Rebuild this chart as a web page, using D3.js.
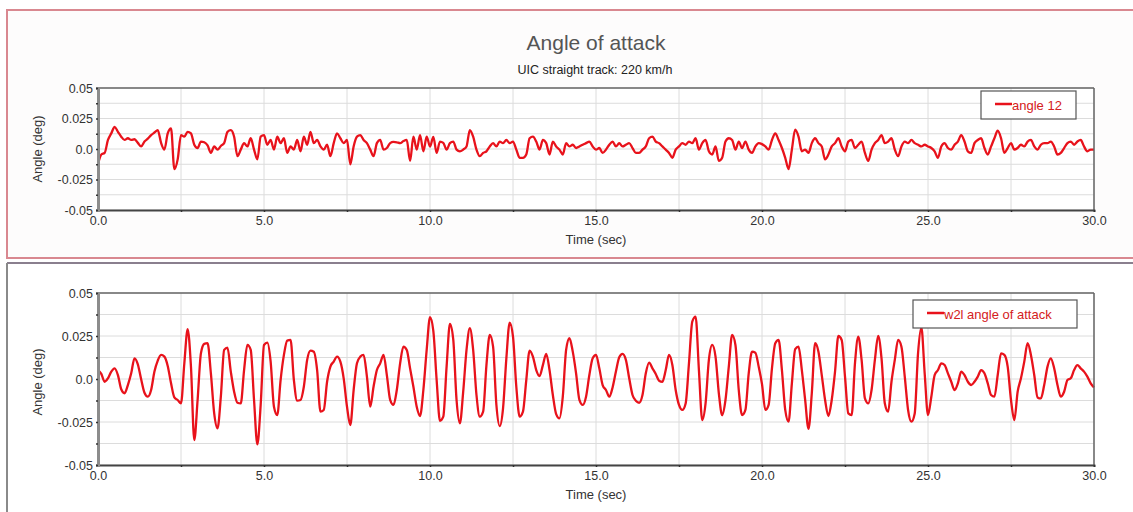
<!DOCTYPE html>
<html>
<head>
<meta charset="utf-8">
<script src="https://cdn.jsdelivr.net/npm/d3@7"></script>
<style>
  body { margin: 0; background: #fff; }
  svg { display: block; font-family: "Liberation Sans", Arial, sans-serif; }
</style>
</head>
<body>
<svg id="chart" width="1133" height="512"></svg>
<script>
// ---- chart text ----
const chartTitle = "Angle of attack";
const chartSubtitle = "UIC straight track: 220 km/h";
const xAxisTitle = "Time (sec)";
const yAxisTitle = "Angle (deg)";
const seriesNames = ["angle 12", "w2l angle of attack"];

// ---- samples (deg), one every sampleStep seconds from t = 0 to 30 s ----
const sampleStep = 0.1;
const angle12 = [
  -0.0125, -0.0045, -0.0032, 0.0074, 0.0128, 0.0181, 0.0141, 0.0101, 0.0074, 0.0088,
  0.0074, 0.0080, 0.0050, 0.0021, 0.0061, 0.0085, 0.0114, 0.0135, 0.0154, 0.0050,
  -0.0005, 0.0128, 0.0168, -0.0165, -0.0085, 0.0114, 0.0101, 0.0141, 0.0128, 0.0035,
  0.0008, 0.0061, 0.0055, 0.0030, -0.0032, 0.0021, -0.0005, 0.0025, 0.0048, 0.0141,
  0.0154, 0.0101, -0.0059, -0.0005, 0.0048, 0.0021, 0.0088, -0.0005, -0.0085, 0.0101,
  0.0114, 0.0035, 0.0074, -0.0005, 0.0101, 0.0048, 0.0088, -0.0032, 0.0021, -0.0005,
  0.0074, -0.0019, 0.0101, 0.0035, 0.0141, 0.0048, 0.0074, 0.0021, -0.0005, 0.0035,
  -0.0059, 0.0048, 0.0128, 0.0088, 0.0048, 0.0074, -0.0125, 0.0021, 0.0101, 0.0114,
  0.0074, 0.0048, -0.0005, -0.0059, 0.0048, 0.0074, -0.0005, 0.0008, 0.0048, 0.0058,
  0.0055, 0.0048, 0.0065, 0.0074, -0.0098, 0.0101, -0.0005, 0.0114, -0.0019, 0.0101,
  0.0020, 0.0100, -0.0032, 0.0061, 0.0050, -0.0005, 0.0048, 0.0061, -0.0005, -0.0019,
  -0.0005, 0.0021, 0.0155, 0.0101, -0.0005, -0.0059, -0.0032, -0.0019, 0.0021, 0.0048,
  0.0021, 0.0061, 0.0048, 0.0074, 0.0048, 0.0061, -0.0005, -0.0072, -0.0072, -0.0045,
  0.0088, 0.0101, 0.0061, -0.0005, 0.0074, 0.0048, -0.0045, 0.0061, 0.0021, -0.0005,
  -0.0045, 0.0048, 0.0021, 0.0035, 0.0008, 0.0021, 0.0035, 0.0048, 0.0061, 0.0021,
  -0.0005, 0.0008, -0.0032, -0.0005, 0.0035, 0.0061, 0.0021, 0.0048, 0.0021, 0.0035,
  0.0048, 0.0008, -0.0032, -0.0032, -0.0005, 0.0021, 0.0088, 0.0101, 0.0061, 0.0048,
  0.0021, -0.0005, -0.0032, -0.0072, -0.0005, 0.0021, 0.0048, 0.0035, 0.0061, 0.0048,
  0.0088, -0.0005, 0.0048, 0.0074, -0.0019, -0.0045, 0.0021, -0.0098, -0.0072, 0.0061,
  0.0088, 0.0074, -0.0005, 0.0061, 0.0008, 0.0061, -0.0005, -0.0032, 0.0021, 0.0048,
  0.0040, 0.0021, -0.0005, 0.0074, 0.0128, 0.0074, 0.0008, -0.0072, -0.0165, -0.0005,
  0.0158, 0.0101, -0.0019, -0.0005, -0.0032, 0.0048, 0.0088, 0.0048, 0.0021, -0.0085,
  -0.0045, 0.0021, 0.0048, 0.0088, 0.0021, -0.0019, 0.0061, 0.0074, 0.0008, 0.0035,
  0.0061, -0.0032, -0.0098, -0.0005, 0.0048, 0.0074, 0.0114, 0.0048, 0.0061, 0.0088,
  -0.0005, -0.0059, 0.0021, 0.0061, 0.0048, 0.0074, 0.0048, 0.0035, 0.0021, 0.0035,
  0.0021, 0.0008, -0.0019, -0.0072, 0.0021, 0.0048, 0.0008, -0.0005, 0.0035, 0.0061,
  0.0114, 0.0061, -0.0019, -0.0032, 0.0048, 0.0074, 0.0088, 0.0008, -0.0045, 0.0021,
  0.0088, 0.0150, 0.0088, -0.0032, 0.0008, 0.0048, -0.0005, 0.0008, 0.0035, 0.0021,
  0.0061, 0.0074, 0.0021, -0.0005, 0.0035, 0.0048, 0.0048, 0.0061, 0.0021, -0.0045,
  -0.0032, 0.0008, 0.0048, 0.0061, 0.0035, 0.0061, 0.0074, 0.0021, -0.0019, -0.0005,
  -0.0005
];
const w2lAngle = [
  0.0052, 0.0030, -0.0016, 0.0004, 0.0043, 0.0062, 0.0023, -0.0060, -0.0083, -0.0035,
  0.0033, 0.0120, 0.0085, -0.0002, -0.0080, -0.0103, -0.0064, 0.0043, 0.0107, 0.0140,
  0.0130, 0.0076, -0.0025, -0.0107, -0.0122, -0.0142, 0.0090, 0.0290, 0.0072, -0.0355,
  -0.0122, 0.0149, 0.0204, 0.0208, 0.0033, -0.0200, -0.0287, -0.0103, 0.0169, 0.0182,
  0.0043, -0.0074, -0.0138, -0.0142, 0.0052, 0.0198, 0.0169, -0.0122, -0.0380, -0.0150,
  0.0198, 0.0211, 0.0101, -0.0161, -0.0210, -0.0006, 0.0140, 0.0223, 0.0227, -0.0006,
  -0.0126, -0.0122, -0.0045, 0.0111, 0.0165, 0.0159, 0.0052, -0.0190, -0.0180, -0.0016,
  0.0072, 0.0101, 0.0130, 0.0101, 0.0004, -0.0161, -0.0268, -0.0064, 0.0091, 0.0130,
  0.0140, 0.0014, -0.0161, -0.0045, 0.0052, 0.0091, 0.0140, 0.0023, -0.0122, -0.0151,
  -0.0064, 0.0091, 0.0188, 0.0169, 0.0062, -0.0045, -0.0161, -0.0215, -0.0064, 0.0169,
  0.0360, 0.0280, -0.0006, -0.0243, -0.0219, 0.0072, 0.0320, 0.0230, -0.0122, -0.0258,
  -0.0074, 0.0169, 0.0295, 0.0169, -0.0093, -0.0219, -0.0190, 0.0081, 0.0256, 0.0188,
  -0.0151, -0.0274, -0.0171, 0.0120, 0.0328, 0.0246, -0.0045, -0.0219, -0.0190, -0.0006,
  0.0165, 0.0130, 0.0052, 0.0017, 0.0081, 0.0146, 0.0052, -0.0093, -0.0204, -0.0229,
  -0.0103, 0.0169, 0.0237, 0.0159, 0.0033, -0.0122, -0.0151, -0.0103, 0.0023, 0.0120,
  0.0140, 0.0062, -0.0035, -0.0064, -0.0103, -0.0049, 0.0043, 0.0126, 0.0146, 0.0111,
  0.0004, -0.0093, -0.0126, -0.0138, -0.0093, 0.0033, 0.0095, 0.0062, 0.0029, -0.0010,
  -0.0016, 0.0052, 0.0140, 0.0081, -0.0064, -0.0151, -0.0180, -0.0142, 0.0091, 0.0334,
  0.0363, 0.0052, -0.0239, -0.0142, 0.0111, 0.0198, 0.0130, -0.0083, -0.0210, -0.0122,
  0.0072, 0.0256, 0.0198, -0.0064, -0.0210, -0.0180, 0.0033, 0.0159, 0.0153, 0.0072,
  -0.0030, -0.0180, -0.0150, 0.0062, 0.0208, 0.0227, 0.0052, -0.0180, -0.0248, -0.0025,
  0.0173, 0.0188, 0.0052, -0.0122, -0.0290, -0.0083, 0.0208, 0.0159, 0.0023, -0.0122,
  -0.0215, -0.0122, 0.0043, 0.0250, 0.0227, 0.0014, -0.0200, -0.0210, 0.0091, 0.0246,
  0.0111, -0.0113, -0.0142, -0.0064, 0.0111, 0.0250, 0.0120, -0.0142, -0.0190, -0.0016,
  0.0111, 0.0227, 0.0188, 0.0014, -0.0180, -0.0248, -0.0200, 0.0149, 0.0300, 0.0033,
  -0.0210, -0.0103, 0.0023, 0.0052, 0.0091, 0.0081, 0.0033, -0.0016, -0.0064, -0.0025,
  0.0043, 0.0023, -0.0016, -0.0035, -0.0016, 0.0014, 0.0052, 0.0033, -0.0025, -0.0093,
  -0.0103, 0.0023, 0.0149, 0.0140, 0.0072, -0.0122, -0.0239, -0.0074, 0.0004, 0.0101,
  0.0208, 0.0140, 0.0023, -0.0107, -0.0113, -0.0035, 0.0072, 0.0120, 0.0062, -0.0035,
  -0.0103, -0.0074, -0.0006, 0.0004, 0.0052, 0.0081, 0.0062, 0.0043, 0.0014, -0.0025,
  -0.0049
];

// ---- axes ----
const xDomain = [0, 30];
const yDomain = [-0.05, 0.05];
const xTickValues = [0, 5, 10, 15, 20, 25, 30];
const xTickLabels = ["0.0", "5.0", "10.0", "15.0", "20.0", "25.0", "30.0"];
const xMinorStep = 2.5;
const yTickValues = [0.05, 0.025, 0, -0.025, -0.05];
const yTickLabels = ["0.05", "0.025", "0.0", "-0.025", "-0.05"];
const yMinorStep = 0.0125;

// ---- layout ----
const lineColor = "#e8121b";
const plotLeft = 98, plotRight = 1094;
const panels = [
  { values: angle12, name: seriesNames[0], top: 88, bottom: 210, titleShift: 0,
    legend: { x: 981, y: 91, w: 95, h: 28 } },
  { values: w2lAngle, name: seriesNames[1], top: 293, bottom: 465, titleShift: 3,
    legend: { x: 913, y: 300, w: 164, h: 28 } }
];

const svg = d3.select("#chart");

// panel frames
svg.append("rect").attr("x", 0).attr("y", 0).attr("width", 1133).attr("height", 512).attr("fill", "#fff");
svg.append("rect")
  .attr("x", 7).attr("y", 10).attr("width", 1130).attr("height", 248)
  .attr("fill", "#fdfcfc").attr("stroke", "#d98890").attr("stroke-width", 2);
svg.append("line").attr("x1", 7).attr("x2", 1133).attr("y1", 263).attr("y2", 263)
  .attr("stroke", "#8a7f8e").attr("stroke-width", 2);
svg.append("line").attr("x1", 7).attr("x2", 7).attr("y1", 263).attr("y2", 512)
  .attr("stroke", "#8a8a8a").attr("stroke-width", 2);

// title block
svg.append("text").attr("x", 596).attr("y", 42).attr("text-anchor", "middle")
  .attr("dominant-baseline", "central").attr("font-size", 21).attr("fill", "#555")
  .text(chartTitle);
svg.append("text").attr("x", 595).attr("y", 70).attr("text-anchor", "middle")
  .attr("dominant-baseline", "central").attr("font-size", 12.5).attr("fill", "#222")
  .text(chartSubtitle);

panels.forEach(p => {
  const x = d3.scaleLinear().domain(xDomain).range([plotLeft, plotRight]);
  const y = d3.scaleLinear().domain(yDomain).range([p.bottom, p.top]);
  const g = svg.append("g");

  g.append("rect").attr("x", plotLeft).attr("y", p.top)
    .attr("width", plotRight - plotLeft).attr("height", p.bottom - p.top).attr("fill", "#fff");

  // grid
  const xMinor = d3.range(xDomain[0], xDomain[1] + 1e-9, xMinorStep);
  const yMinor = d3.range(yDomain[0], yDomain[1] + 1e-9, yMinorStep);
  g.selectAll(".vgrid").data(xMinor).join("line")
    .attr("x1", d => x(d)).attr("x2", d => x(d)).attr("y1", p.top).attr("y2", p.bottom)
    .attr("stroke", "#dcdcdc").attr("stroke-width", 1);
  g.selectAll(".hgrid").data(yMinor).join("line")
    .attr("x1", plotLeft).attr("x2", plotRight).attr("y1", d => y(d)).attr("y2", d => y(d))
    .attr("stroke", "#dcdcdc").attr("stroke-width", 1);

  // series
  const line = d3.line().curve(d3.curveMonotoneX)
    .x((d, i) => x(i * sampleStep)).y(d => y(d));
  g.append("path").datum(p.values).attr("d", line)
    .attr("fill", "none").attr("stroke", lineColor).attr("stroke-width", 2.3)
    .attr("stroke-linejoin", "round");

  // frame
  g.append("line").attr("x1", plotLeft).attr("x2", plotRight).attr("y1", p.top).attr("y2", p.top)
    .attr("stroke", "#666").attr("stroke-width", 1.5);
  g.append("line").attr("x1", plotRight).attr("x2", plotRight).attr("y1", p.top).attr("y2", p.bottom)
    .attr("stroke", "#666").attr("stroke-width", 1.5);

  // x axis: minor ticks, then labels
  const xMinorAxis = d3.axisBottom(x).tickValues(xMinor).tickSize(2).tickFormat("");
  const xa = g.append("g").attr("transform", `translate(0,${p.bottom})`).call(xMinorAxis);
  xa.select(".domain").attr("stroke", "#444").attr("stroke-width", 1.8);
  xa.selectAll(".tick line").attr("stroke", "#333").attr("stroke-width", 1.5);
  const xLabelAxis = d3.axisBottom(x).tickValues(xTickValues).tickSize(0).tickPadding(6)
    .tickFormat((d, i) => xTickLabels[i]);
  const xl = g.append("g").attr("transform", `translate(0,${p.bottom})`).call(xLabelAxis);
  xl.select(".domain").remove();
  xl.selectAll("text").attr("font-size", 12.5).attr("fill", "#333")
    .attr("font-family", "Liberation Sans, Arial, sans-serif");

  // y axis
  const yMinorAxis = d3.axisLeft(y).tickValues(yMinor).tickSize(2).tickFormat("");
  const ya = g.append("g").attr("transform", `translate(${plotLeft},0)`).call(yMinorAxis);
  ya.select(".domain").attr("stroke", "#8c8c8c").attr("stroke-width", 3);
  ya.selectAll(".tick line").attr("stroke", "#333").attr("stroke-width", 1.5);
  const yLabelAxis = d3.axisLeft(y).tickValues(yTickValues).tickSize(0).tickPadding(5)
    .tickFormat((d, i) => yTickLabels[i]);
  const yl = g.append("g").attr("transform", `translate(${plotLeft},0)`).call(yLabelAxis);
  yl.select(".domain").remove();
  yl.selectAll("text").attr("font-size", 12.5).attr("fill", "#333")
    .attr("font-family", "Liberation Sans, Arial, sans-serif");

  // axis titles
  g.append("text").attr("x", (plotLeft + plotRight) / 2).attr("y", p.bottom + 29)
    .attr("text-anchor", "middle").attr("dominant-baseline", "central")
    .attr("font-size", 13).attr("fill", "#333").text(xAxisTitle);
  g.append("text")
    .attr("transform", `translate(37,${(p.top + p.bottom) / 2 + p.titleShift}) rotate(-90)`)
    .attr("text-anchor", "middle").attr("dominant-baseline", "central")
    .attr("font-size", 13).attr("fill", "#333").text(yAxisTitle);

  // legend
  const L = p.legend;
  g.append("rect").attr("x", L.x).attr("y", L.y).attr("width", L.w).attr("height", L.h)
    .attr("fill", "#fff").attr("stroke", "#555").attr("stroke-width", 1.2);
  g.append("line").attr("x1", L.x + 14).attr("x2", L.x + 31)
    .attr("y1", L.y + L.h / 2 - 1).attr("y2", L.y + L.h / 2 - 1)
    .attr("stroke", lineColor).attr("stroke-width", 2.5);
  g.append("text").attr("x", L.x + 31).attr("y", L.y + L.h / 2)
    .attr("dominant-baseline", "central").attr("font-size", 13)
    .attr("fill", "#d42020").text(p.name);
});
</script>
</body>
</html>
